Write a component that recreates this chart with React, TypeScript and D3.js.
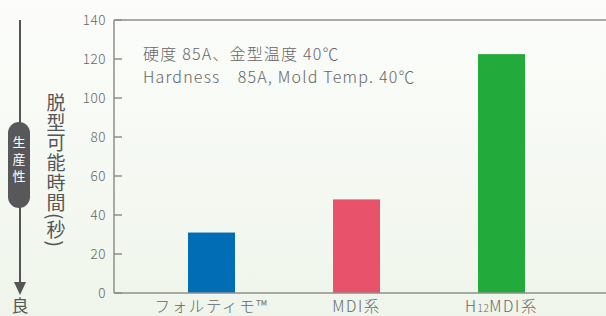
import React, { useEffect, useRef } from 'react';
import * as d3 from 'd3';

const categories = ['フォルティモ™', 'MDI系', 'H12MDI系'];
const values = [31, 48, 122.5];
const barColors = ['#006db5', '#e8526a', '#22ab3a'];
const yTicks = [0, 20, 40, 60, 80, 100, 120, 140];
const yTitle = '脱型可能時間(秒)';
const pillText = '生産性';
const noteLines = ['硬度 85A、金型温度 40℃', 'Hardness　85A, Mold Temp. 40℃'];

const W = 606;
const H = 316;
const font = "'Noto Sans CJK JP', 'Noto Sans', sans-serif";

export default function App() {
  const svgRef = useRef<SVGSVGElement>(null);

  useEffect(() => {
    if (!svgRef.current) return;
    const svg = d3.select(svgRef.current);
    svg.selectAll('*').remove();

    const margin = { top: 20, left: 114, bottom: 23 };
    const y = d3.scaleLinear().domain([0, 140]).range([H - margin.bottom, margin.top]);
    const x = d3.scaleBand<string>()
      .domain(categories)
      .range([139, 574])
      .paddingInner(0.676)
      .paddingOuter(0.338);

    // background gradient
    const defs = svg.append('defs');
    const grad = defs.append('linearGradient').attr('id', 'bg').attr('x1', 0).attr('y1', 0).attr('x2', 0).attr('y2', 1);
    grad.append('stop').attr('offset', '0%').attr('stop-color', '#fcfdfb');
    grad.append('stop').attr('offset', '100%').attr('stop-color', '#eff5eb');
    svg.append('rect').attr('width', W).attr('height', H).attr('fill', 'url(#bg)');

    // bars
    svg.append('g')
      .selectAll('rect')
      .data(values)
      .join('rect')
      .attr('x', (_, i) => x(categories[i])!)
      .attr('width', x.bandwidth())
      .attr('y', d => y(d))
      .attr('height', d => y(0) - y(d))
      .attr('fill', (_, i) => barColors[i]);

    // frame: left, top, bottom
    const frame = svg.append('g').attr('stroke', '#8f8f8a').attr('stroke-width', 1.5).attr('fill', 'none');
    frame.append('line').attr('x1', margin.left).attr('x2', margin.left).attr('y1', y(140)).attr('y2', y(0));
    frame.append('line').attr('x1', margin.left).attr('x2', W).attr('y1', y(140)).attr('y2', y(140));
    frame.append('line').attr('x1', margin.left).attr('x2', W).attr('y1', y(0)).attr('y2', y(0));

    // y ticks
    const yAxis = svg.append('g');
    yAxis.selectAll('line')
      .data(yTicks)
      .join('line')
      .attr('x1', margin.left)
      .attr('x2', margin.left + 8)
      .attr('y1', d => y(d))
      .attr('y2', d => y(d))
      .attr('stroke', '#8f8f8a')
      .attr('stroke-width', 1.5);
    yAxis.selectAll('text')
      .data(yTicks)
      .join('text')
      .attr('x', 106)
      .attr('y', d => y(d))
      .attr('dy', '0.35em')
      .attr('text-anchor', 'end')
      .attr('font-family', font)
      .attr('font-size', 13.5)
      .attr('font-weight', 300)
      .attr('letter-spacing', 0.5)
      .attr('fill', '#666')
      .text(d => d);

    // category labels
    const xl = svg.append('g')
      .selectAll('text')
      .data(categories)
      .join('text')
      .attr('x', d => x(d)! + x.bandwidth() / 2)
      .attr('y', 312)
      .attr('text-anchor', 'middle')
      .attr('font-family', font)
      .attr('font-size', 15.5)
      .attr('font-weight', 300)
      .attr('letter-spacing', 1.6)
      .attr('fill', '#666');
    xl.each(function (d) {
      const t = d3.select(this);
      if (d.startsWith('H12')) {
        t.append('tspan').text('H');
        t.append('tspan').attr('font-size', 10).attr('letter-spacing', 0.5).text('12');
        t.append('tspan').text(d.slice(3));
      } else {
        t.text(d);
      }
    });

    // note
    svg.append('g')
      .selectAll('text')
      .data(noteLines)
      .join('text')
      .attr('x', 143)
      .attr('y', (_, i) => 60 + i * 23)
      .attr('font-family', font)
      .attr('font-size', 16)
      .attr('font-weight', 300)
      .attr('letter-spacing', 1.2)
      .attr('fill', '#666')
      .text(d => d);

    // y title, vertical writing
    svg.append('text')
      .attr('x', 56)
      .attr('y', 93)
      .attr('font-family', font)
      .attr('font-size', 19)
      .attr('letter-spacing', 1)
      .attr('fill', '#555')
      .style('writing-mode', 'vertical-rl')
      .text(yTitle);

    // productivity arrow
    const arr = svg.append('g');
    arr.append('line').attr('x1', 20).attr('x2', 20).attr('y1', 20).attr('y2', 284)
      .attr('stroke', '#555').attr('stroke-width', 2);
    arr.append('path').attr('d', 'M14,282 L26,282 L20,295 Z').attr('fill', '#555');
    arr.append('rect').attr('x', 8).attr('y', 122).attr('width', 22).attr('height', 86).attr('rx', 11)
      .attr('fill', '#58585a');
    arr.append('text')
      .attr('x', 19)
      .attr('y', 136)
      .attr('font-family', font)
      .attr('font-size', 13)
      .attr('letter-spacing', 4)
      .attr('fill', '#fff')
      .style('writing-mode', 'vertical-rl')
      .text(pillText);
    arr.append('text')
      .attr('x', 20)
      .attr('y', 312)
      .attr('text-anchor', 'middle')
      .attr('font-family', font)
      .attr('font-size', 17)
      .attr('fill', '#555')
      .text('良');
  }, []);

  return (
    <svg
      ref={svgRef}
      width={W}
      height={H}
      style={{ position: 'absolute', left: 0, top: 0, display: 'block' }}
    />
  );
}
